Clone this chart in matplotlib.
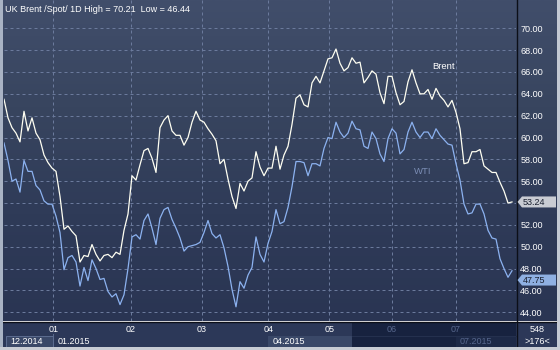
import numpy as np
import matplotlib
matplotlib.use("Agg")
import matplotlib.pyplot as plt
from matplotlib.patches import Rectangle, Polygon
from matplotlib.colors import LinearSegmentedColormap

# ---------------- data ----------------
brent = [63.5, 61.8, 60.9, 60.4, 59.6, 62.4, 60.6, 61.8, 60.4, 59.8,
         58.4, 57.7, 57.2, 56.9, 54.6, 51.6, 51.9, 51.4, 51.0, 48.6,
         49.2, 49.1, 50.2, 49.3, 48.7, 49.2, 49.3, 49.0, 49.5, 49.3,
         51.5, 53.0, 56.5, 56.1, 57.5, 58.8, 59.0, 58.1, 56.8, 60.9,
         61.6, 62.0, 60.6, 60.2, 60.2, 59.3, 60.0, 61.4, 62.4, 61.6,
         61.4, 60.8, 60.3, 59.7, 57.6, 58.0, 56.2, 54.6, 53.5, 55.8,
         55.1, 56.0, 56.3, 58.7, 57.3, 56.5, 57.2, 57.2, 59.2, 57.1,
         58.4, 59.2, 61.2, 63.6, 63.9, 63.0, 62.8, 65.0, 65.6, 65.0,
         66.1, 67.2, 67.3, 68.1, 66.8, 66.1, 66.4, 67.3, 66.8, 66.9,
         65.0, 65.5, 66.1, 65.8, 64.1, 63.1, 65.6, 65.6, 64.1, 63.0,
         63.3, 65.1, 66.2, 65.0, 64.0, 64.0, 64.4, 63.5, 64.5, 63.8,
         63.4, 62.8, 63.4, 62.3, 60.8, 57.6, 57.7, 58.7, 58.7, 58.9,
         57.4, 57.1, 56.8, 56.8, 55.9, 55.1, 54.0, 54.1]

wti = [59.5, 57.9, 56.0, 56.2, 55.0, 57.9, 56.9, 56.9, 55.6, 55.2,
       54.2, 53.9, 53.9, 52.8, 51.3, 47.9, 49.0, 49.2, 48.6, 46.4,
       48.1, 46.9, 48.8, 48.0, 47.0, 47.1, 45.9, 45.4, 45.7, 44.7,
       45.6, 48.0, 50.9, 51.1, 50.7, 52.4, 53.0, 51.7, 50.2, 52.6,
       53.4, 53.6, 52.5, 51.7, 50.8, 49.6, 50.0, 50.1, 50.2, 50.4,
       51.3, 52.4, 51.2, 50.8, 51.1, 49.9, 48.2, 46.1, 44.5, 46.8,
       46.2, 47.4, 48.1, 50.9, 49.3, 48.6, 50.3, 51.4, 53.4, 52.1,
       52.3, 53.6, 55.5, 57.8, 57.8, 57.7, 56.5, 57.6, 57.6, 57.4,
       59.0, 60.0, 59.9, 61.4, 60.5, 60.0, 60.4, 61.5, 60.8, 60.7,
       59.2, 59.0, 60.5, 59.9, 58.5, 57.8, 59.9, 60.8, 60.4, 58.5,
       58.9, 60.5, 61.4, 60.5, 60.0, 60.5, 60.5, 59.9, 60.8, 60.2,
       59.8, 59.4, 59.3, 57.6, 56.1, 53.9, 53.0, 53.1, 53.9, 53.9,
       53.0, 51.5, 50.8, 50.7, 48.9, 48.0, 47.2, 47.8]

month_pos = [12.33, 31.75, 49.4, 66.1, 81.3, 96.9, 113.0]
month_labels = ["01", "02", "03", "04", "05", "06", "07"]
quarter_labels = ["12.2014", "01.2015", "04.2015", "07.2015"]
y_ticks = list(range(44, 71, 2))
title = "UK Brent /Spot/ 1D High = 70.21  Low = 46.44"
brent_tag = "53.24"
wti_tag = "47.75"
footer = ["548", ">176<"]

# ---------------- figure ----------------
W, H = 560, 350
FS = 6.5
FONT = ["Liberation Sans", "DejaVu Sans"]
plt.rcParams["font.family"] = FONT
fig = plt.figure(figsize=(W / 100, H / 100), dpi=100)

bg = fig.add_axes([0, 0, 1, 1], zorder=0)
bg.set_xlim(0, W)
bg.set_ylim(H, 0)
bg.axis("off")

# gradient background of plot + price column
cmap = LinearSegmentedColormap.from_list(
    "bgc", ["#414e6b", "#38455f", "#2f3b58", "#2a3553"])
grad = np.linspace(0, 1, 256).reshape(-1, 1)
bg.imshow(grad, cmap=cmap, aspect="auto", extent=[3, 557, 321, 0],
          interpolation="bilinear", zorder=0)
# bottom panel
bg.add_patch(Rectangle((3, 322), 554, 25, fc="#2c3858", ec="none", zorder=1))
# frame
bg.add_patch(Rectangle((0, 0), 3, H, fc="#a9b3c4", ec="none", zorder=6))
bg.add_patch(Rectangle((557, 0), 3, H, fc="#c3c9d3", ec="none", zorder=6))
bg.add_patch(Rectangle((0, 347), W, 3, fc="#c8ccd4", ec="none", zorder=6))
bg.plot([3, 557], [321.5, 321.5], color="#0c0f18", lw=1.0, zorder=5)
bg.plot([516.5, 516.5], [0, 347], color="#0c0f18", lw=1.0, zorder=5)

# main axes
left_px, right_px, top_px, bot_px = 3.5, 516, 0, 321
ax = fig.add_axes([left_px / W, (H - bot_px) / H, (right_px - left_px) / W,
                   (bot_px - top_px) / H], zorder=2)
ax.set_facecolor("none")
n = len(brent)
x = np.arange(n)
ax.set_xlim(-0.125, 128)
ax.set_ylim(43.20, 72.59)
for s in ax.spines.values():
    s.set_visible(False)

ax.plot(x, wti, color="#8cb2f0", lw=0.9, zorder=3)
ax.plot(x, brent, color="#fffff2", lw=0.9, zorder=4)

ax.yaxis.tick_right()
ax.set_yticks(y_ticks)
ax.set_yticklabels([f"{v:.2f}" for v in y_ticks])
ax.tick_params(axis="y", length=0, pad=3, labelsize=FS, labelcolor="white")
ax.set_xticks(month_pos)
ax.set_xticklabels(month_labels)
ax.tick_params(axis="x", length=0, pad=3.0, labelsize=FS, labelcolor="white")
for lbl in ax.get_xticklabels()[5:]:
    lbl.set_color("#56668c")
ax.grid(True, color="#6b7a9c", linestyle=(0, (3, 3)), linewidth=0.72)
ax.set_axisbelow(True)

# pixel positions of the month gridlines
def px_of(i):
    d = ax.transData.transform((i, 60))
    return bg.transData.inverted().transform(d)[0]

x01, x04, x07 = px_of(month_pos[0]), px_of(month_pos[3]), px_of(month_pos[6])
nav_left = 351.7

# lower row of bottom panel
bg.add_patch(Rectangle((6, 336), x01 - 6, 11, fc="#3a4868", ec="#5d6d90",
                       lw=0.7, zorder=2))
bg.add_patch(Rectangle((x04, 336), nav_left - x04, 11, fc="#3a4868",
                       ec="none", zorder=2))
bg.plot([x01, x01], [334, 347], color="#5d6d90", lw=0.7, zorder=2)
bg.add_patch(Rectangle((nav_left, 323), 515.5 - nav_left, 24, fc="#17223f",
                       ec="none", zorder=3))
bg.add_patch(Rectangle((x07, 336), 515.5 - x07, 11, fc="#1d2947",
                       ec="none", zorder=3))
bg.plot([nav_left, 515.5], [335.5, 335.5], color="#24304e", lw=0.8, zorder=3)

tk = dict(fontsize=FS, va="center", ha="left", zorder=7)
bg.text(10, 341.5, quarter_labels[0], color="white", **tk)
bg.text(x01 + 4, 341.5, quarter_labels[1], color="white", **tk)
bg.text(x04 + 4, 341.5, quarter_labels[2], color="white", **tk)
bg.text(x07 + 4, 341.5, quarter_labels[3], color="#56668c", **tk)
bg.text(537, 329, footer[0], color="white", fontsize=FS, ha="center",
        va="center", zorder=7)
bg.text(537, 341.5, footer[1], color="white", fontsize=FS, ha="center",
        va="center", zorder=7)

# overlay for title, series names, price tags
ov = fig.add_axes([0, 0, 1, 1], zorder=5)
ov.set_xlim(0, W)
ov.set_ylim(H, 0)
ov.axis("off")
ov.patch.set_alpha(0)

ov.text(5, 9, title, color="white", fontsize=FS, ha="left", va="center")

def to_px(i, v):
    d = ax.transData.transform((i, v))
    return ov.transData.inverted().transform(d)

bx, by = to_px(110.0, 66.5)
ov.text(bx, by, "Brent", color="white", fontsize=6.8, ha="center", va="center")
wx, wy = to_px(104.8, 56.85)
ov.text(wx, wy, "WTI", color="#7b8db5", fontsize=6.8, ha="center", va="center")

def tag(value, text, face):
    _, yb = to_px(0, value)
    poly = Polygon([(517.5, yb), (522, yb - 5.5), (556, yb - 5.5),
                    (556, yb + 5.5), (522, yb + 5.5)], closed=True,
                   fc=face, ec="none")
    ov.add_patch(poly)
    ov.text(522.5, yb + 0.3, text, color="#1a2030", fontsize=FS,
            ha="left", va="center")

tag(brent[-1], brent_tag, "#c9ccd3")
tag(wti[-1] - 0.85, wti_tag, "#8fb0e2")

fig.savefig("out.png", dpi=100)
